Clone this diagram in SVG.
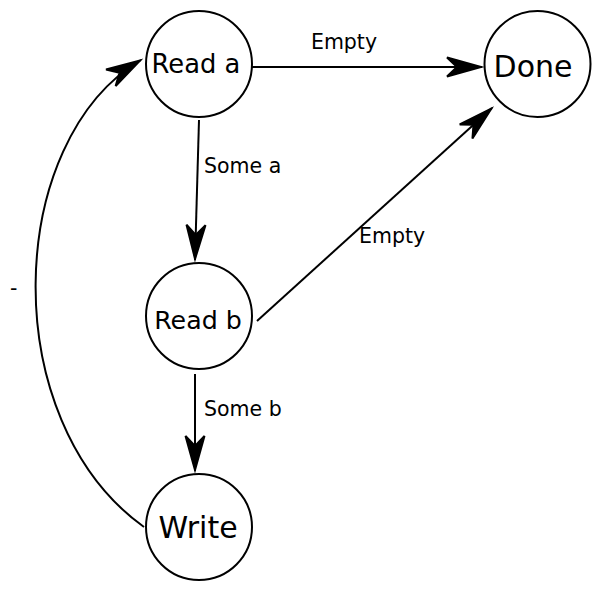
<svg xmlns="http://www.w3.org/2000/svg" width="602" height="592" viewBox="0 0 602 592">
<style>
.node circle{fill:#fff;stroke:#000;stroke-width:2}
.node text{font-family:"DejaVu Sans",Verdana,sans-serif;fill:#000;text-anchor:middle;dominant-baseline:central}
.edge{fill:none;stroke:#000;stroke-width:2}
.lbl{font-family:"DejaVu Sans",Verdana,sans-serif;font-size:20.5px;fill:#000;dominant-baseline:central}
</style>
<defs>
<marker id="ah" markerUnits="userSpaceOnUse" viewBox="-40 -13 44 26" refX="0" refY="0" markerWidth="44" markerHeight="26" orient="auto">
<path d="M-1,0 L-35,-9.5 L-25,0 L-35,9.5 Z" fill="#000" stroke="#000" stroke-width="2" stroke-linejoin="miter"/>
</marker>
</defs>
<rect width="602" height="592" fill="#fff"/>
<g id="connectors">
<path class="edge" d="M252,67 L482,67" marker-end="url(#ah)"/>
<path class="edge" d="M199,120 L195,260" marker-end="url(#ah)"/>
<path class="edge" d="M257,321 L492,108" marker-end="url(#ah)"/>
<path class="edge" d="M195,374 L195,471" marker-end="url(#ah)"/>
<path class="edge" d="M144,527 C-5,420 5,140 141,60" marker-end="url(#ah)"/>
<text class="lbl" x="344" y="42" text-anchor="middle">Empty</text>
<text class="lbl" x="204" y="166">Some a</text>
<text class="lbl" x="359" y="236">Empty</text>
<text class="lbl" x="204" y="409">Some b</text>
<text class="lbl" x="10" y="288">-</text>
</g>
<g id="read-a" class="node"><circle cx="199" cy="64" r="53"/><text x="196" y="64" font-size="25.8">Read a</text></g>
<g id="done" class="node"><circle cx="537.5" cy="64" r="53"/><text x="533" y="66" font-size="30">Done</text></g>
<g id="read-b" class="node"><circle cx="199" cy="316" r="53"/><text x="198" y="320" font-size="25.3">Read b</text></g>
<g id="write" class="node"><circle cx="199" cy="527" r="53"/><text x="198" y="527" font-size="30">Write</text></g>
</svg>
